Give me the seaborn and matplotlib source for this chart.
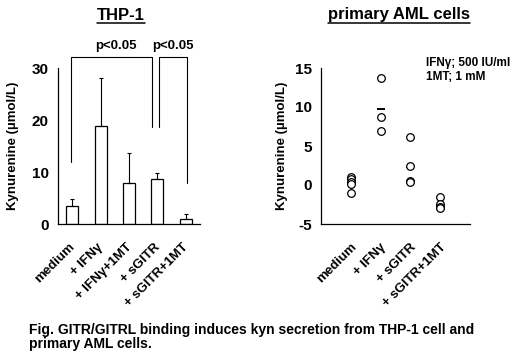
import numpy as np
import pandas as pd
import matplotlib
matplotlib.use("Agg")
import matplotlib.pyplot as plt
import seaborn as sns
from matplotlib.lines import Line2D

# ---- data ----
thp_groups = ["medium", "+ IFNγ", "+ IFNγ+1MT", "+ sGITR", "+ sGITR+1MT"]
thp_means = [3.4, 18.8, 7.8, 8.6, 1.0]
thp_sd = [1.4, 9.2, 5.9, 1.2, 1.0]

aml_groups = ["medium", "+ IFNγ", "+ sGITR", "+ sGITR+1MT"]
aml_medium = [1.0, 0.8, 0.4, 0.1, -1.0]
aml_ifng = [13.7, 8.7, 6.9]
aml_sgitr = [6.1, 2.4, 0.5, 0.4]
aml_sgitr_1mt = [-1.5, -2.4, -2.8, -3.0]
aml_means = [0.3, 9.8, 2.3, -2.6]

thp_yticks = [0, 10, 20, 30]
aml_yticks = [-5, 0, 5, 10, 15]

sns.set_theme(style="white")
plt.rcParams['font.family'] = ['Liberation Sans', 'DejaVu Sans']
plt.rcParams['font.weight'] = 'bold'
plt.rcParams['axes.unicode_minus'] = False
plt.rcParams['text.color'] = 'black'
plt.rcParams['axes.labelcolor'] = 'black'
plt.rcParams['xtick.color'] = 'black'
plt.rcParams['ytick.color'] = 'black'

fig = plt.figure(figsize=(5.2, 3.64), dpi=100)
W, H = 520, 364
ax1 = fig.add_axes([58 / W, 1 - 224 / H, 142 / W, 156 / H])
ax2 = fig.add_axes([321 / W, 1 - 224 / H, 149 / W, 156 / H])

# ---- left: THP-1 bars ----
df1 = pd.DataFrame({"group": thp_groups, "value": thp_means})
sns.barplot(data=df1, x="group", y="value", ax=ax1, color="white",
            edgecolor="black", linewidth=0.9, width=0.42, errorbar=None)
x1 = np.arange(len(thp_groups))
ax1.errorbar(x1, thp_means, yerr=[np.zeros(len(thp_sd)), thp_sd], fmt="none",
             ecolor="black", elinewidth=0.8, capsize=1.5, capthick=0.8)
ax1.set_xlim(-0.5, len(thp_groups) - 0.5)
ax1.set_ylim(0, 30)
ax1.set_yticks(thp_yticks)
ax1.set_xticks(np.arange(-0.5, len(thp_groups), 1.0))
ax1.set_xticklabels([])
for i, lab in enumerate(thp_groups):
    ax1.text(i - 0.12, -0.11, lab, transform=ax1.get_xaxis_transform(),
             rotation=45, ha="right", va="top", rotation_mode="anchor",
             fontsize=9.5, fontweight="bold", color="black")
ax1.set_xlabel("")
ax1.set_ylabel("Kynurenine (µmol/L)", fontsize=9.5, fontweight="bold", labelpad=9)

# significance brackets
top = 32.2
for (xa, ya, xb, yb, xt) in [(-0.05, 12.0, 2.8, 18.6, 1.53), (3.05, 18.6, 4.05, 7.9, 3.53)]:
    ax1.plot([xa, xa, xb, xb], [ya, top, top, yb], color="black", lw=0.8, clip_on=False)
    ax1.text(xt, top + 0.9, "p<0.05", ha="center", va="bottom", fontsize=9.5,
             fontweight="bold", clip_on=False, color="black")

# ---- right: AML cells points ----
aml_vals = [aml_medium, aml_ifng, aml_sgitr, aml_sgitr_1mt]
df2 = pd.DataFrame({"group": [g for g, v in zip(aml_groups, aml_vals) for _ in v],
                    "value": [x for v in aml_vals for x in v]})
sns.stripplot(data=df2, x="group", y="value", ax=ax2, jitter=False, marker="o",
              size=5.5, facecolor="white", edgecolor="black", linewidth=0.9)
ax2.scatter(np.arange(len(aml_groups)), aml_means, marker="_", s=30,
            color="black", linewidths=1.4, zorder=1)
ax2.set_xlim(-1, len(aml_groups))
ax2.set_ylim(-5, 15)
ax2.set_yticks(aml_yticks)
ax2.set_xticks(np.arange(-1, len(aml_groups) + 1, 1))
ax2.set_xticklabels([])
for i, lab in enumerate(aml_groups):
    ax2.text(i - 0.02, -0.11, lab, transform=ax2.get_xaxis_transform(),
             rotation=45, ha="right", va="top", rotation_mode="anchor",
             fontsize=9.5, fontweight="bold", color="black")
ax2.set_xlabel("")
ax2.set_ylabel("Kynurenine (µmol/L)", fontsize=9.5, fontweight="bold", labelpad=5)

for ax in (ax1, ax2):
    for s in ("top", "right"):
        ax.spines[s].set_visible(False)
    for s in ("left", "bottom"):
        ax.spines[s].set_color("black")
        ax.spines[s].set_linewidth(0.9)
    ax.tick_params(axis="both", direction="out", length=3, width=0.9,
                   colors="black", labelsize=11)
    for t in ax.get_yticklabels():
        t.set_fontweight("bold")

# titles with underline
titles = []
titles.append(fig.text(121 / W, 1 - 15 / H, "THP-1", ha="center", va="center",
                       fontsize=12, fontweight="bold", color="black"))
titles.append(fig.text(399 / W, 1 - 15 / H, "primary AML cells", ha="center", va="center",
                       fontsize=12, fontweight="bold", color="black"))

fig.text(426 / W, 1 - 63 / H, "IFNγ; 500 IU/ml", ha="left", va="center",
         fontsize=8.5, fontweight="bold", color="black")
fig.text(426 / W, 1 - 77 / H, "1MT; 1 mM", ha="left", va="center",
         fontsize=8.5, fontweight="bold", color="black")

fig.text(29 / W, 1 - 337 / H,
         "Fig. GITR/GITRL binding induces kyn secretion from THP-1 cell and\nprimary AML cells.",
         ha="left", va="center", fontsize=10, fontweight="bold", linespacing=1.05,
         color="black")

fig.canvas.draw()
r = fig.canvas.get_renderer()
for t in titles:
    bb = t.get_window_extent(r)
    yl = (bb.y0 - 0.5) / H
    fig.add_artist(Line2D([bb.x0 / W, bb.x1 / W], [yl, yl], color="black", lw=1.1,
                          transform=fig.transFigure))

fig.savefig("out.png", dpi=100)
